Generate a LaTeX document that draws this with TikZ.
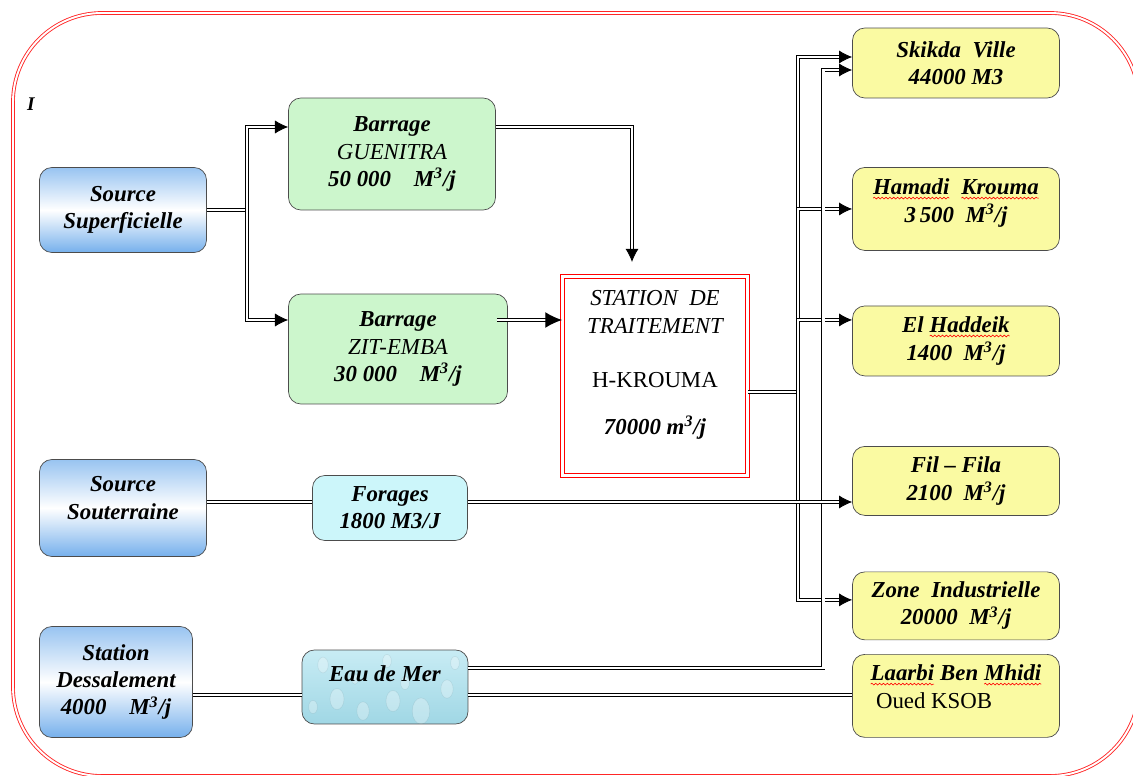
\documentclass[tikz,border=0pt]{standalone}
\usepackage{fontspec}
\setmainfont{Liberation Serif}
\usetikzlibrary{positioning,calc,arrows.meta,decorations.pathmorphing}

\definecolor{srcblue}{RGB}{118,176,236}
\definecolor{damgreen}{RGB}{204,246,204}
\definecolor{wellcyan}{RGB}{204,246,250}
\definecolor{seatop}{RGB}{200,236,244}
\definecolor{seabot}{RGB}{160,215,229}
\definecolor{townyellow}{RGB}{250,250,162}

\newcommand{\spellwave}[1]{\tikz[baseline=(w.base),x=1cm,y=1cm,sharp corners]{%
    \node[inner sep=0pt,outer sep=0pt,minimum width=0pt,minimum height=0pt,draw=none,fill=none,align=left] (w) {#1};
    \draw[red,line width=0.35pt,sharp corners,decorate,decoration={snake,amplitude=0.5pt,segment length=2.2pt}]
        ([yshift=-1.8pt]w.base west) -- ([yshift=-1.8pt]w.base east);}}

\begin{document}
\begin{tikzpicture}[x=0.02cm,y=-0.02cm,on grid,
    box/.style={draw=black!70,rounded corners=7pt,align=center,inner sep=2pt,
        font=\fontsize{13}{15.5}\selectfont\bfseries\itshape},
    source/.style={box,top color=srcblue!75,bottom color=srcblue,middle color=white},
    dam/.style={box,fill=damgreen},
    well/.style={box,fill=wellcyan},
    sea/.style={box,top color=seatop,bottom color=seabot,
        path picture={\foreach \dx/\dy/\rr in {-62/-22/3,-48/12/4,-22/24/3.5,8/14/4,36/24/5,62/2/3.5,70/-24/2.5,-72/20/2.5,2/-26/2.5,44/-12/2,-30/-8/2,20/-4/2.5}
            {\fill[white,opacity=0.3] ($(path picture bounding box.center)+(\dx,\dy)$) ellipse [x radius=\rr pt,y radius=1.5*\rr pt];
             \draw[seabot!70!black,opacity=0.2,line width=0.3pt] ($(path picture bounding box.center)+(\dx,\dy)$) ellipse [x radius=\rr pt,y radius=1.5*\rr pt];}}},
    town/.style={box,fill=townyellow,minimum width=4.14cm},
    plant/.style={draw=red,double=white,double distance=1.8pt,line width=0.6pt,fill=white,
        align=center,font=\fontsize{13}{15.5}\selectfont\itshape},
    pipe/.style={double,double distance=1.4pt,line width=0.45pt},
    frame/.style={draw=red!85,double=white,double distance=1.1pt,line width=0.5pt,rounded corners=1.78cm},
    >={Latex[length=7.5pt,width=7.5pt]}]
    \useasboundingbox (0,0) rectangle (1133,776);
    \draw[frame] (13,13) rectangle (1139,776);
    \node[font=\fontsize{11}{12}\selectfont\bfseries\itshape] (mark) at (31,104) {I};

    % sources
    \node[source,minimum width=3.34cm,minimum height=1.70cm] (src_sup) at (123,210) {Source\\Superficielle};
    \node[source,minimum width=3.34cm,minimum height=1.94cm] (src_sout) at (123,508) {Source\\Souterraine\\[-4pt]\mbox{}};
    \node[source,minimum width=3.06cm,minimum height=2.22cm] (src_des) at (116,682) {Station\\Dessalement\\4000\quad M\textsuperscript{3}/j};

    % dams, wells, sea
    \node[dam,minimum width=4.14cm,minimum height=2.24cm] (bar_gue) at (392,154) {Barrage\\{\mdseries GUENITRA}\\50 000\quad M\textsuperscript{3}/j};
    \node[dam,minimum width=4.38cm,minimum height=2.20cm] (bar_zit) at (398,349) {Barrage\\{\mdseries ZIT-EMBA}\\30 000\quad M\textsuperscript{3}/j};
    \node[well,minimum width=3.10cm,minimum height=1.30cm] (forages) at (390,508) {Forages\\1800 M3/J};
    \node[sea,minimum width=3.32cm,minimum height=1.48cm] (eau) at (385,687) {Eau de Mer\\ \mbox{}};

    % treatment plant
    \node[plant,minimum width=3.70cm,minimum height=3.98cm] (station) at (655,376)
        {STATION\ \ DE\\TRAITEMENT\\[15.5pt]{\upshape H-KROUMA}\\[11pt]{\bfseries 70000 m\textsuperscript{3}/j}\\ \mbox{}};

    % towns
    \node[town,minimum height=1.40cm] (skikda) at (956,63) {Skikda\ \ Ville\\44000 M3};
    \node[town,minimum height=1.66cm,below=2.92cm of skikda] (hamadi) {\spellwave{Hamadi}\ \ \spellwave{Krouma}\\3\,500\ \ M\textsuperscript{3}/j\\[-6pt]\mbox{}};
    \node[town,minimum height=1.40cm,below=2.64cm of hamadi] (haddeik) {El \spellwave{Haddeik}\\1400\ \ M\textsuperscript{3}/j};
    \node[town,minimum height=1.38cm,below=2.80cm of haddeik] (fila) {Fil -- Fila\\2100\ \ M\textsuperscript{3}/j};
    \node[town,minimum height=1.36cm,below=2.50cm of fila] (zone) {Zone\ \ Industrielle\\20000\ \ M\textsuperscript{3}/j};
    \node[town,minimum height=1.66cm,below=1.80cm of zone,align=left] (laarbi) {\spellwave{Laarbi} Ben \spellwave{Mhidi}\\{\mdseries\upshape\ Oued KSOB}\\[-5pt]\mbox{}};

    % surface water
    \draw[pipe] (src_sup.east) -- ++(40,0) coordinate (split);
    \draw[pipe,->] (split) |- ($(bar_gue.west)+(0,-27)$);
    \draw[pipe,->] (split) |- ($(bar_zit.west)+(0,-29)$);
    \draw[pipe,->,shorten >=8pt] ($(bar_gue.east)+(0,-27)$) -| ($(station.north)+(-23,0)$);
    \draw[pipe,line width=0.7pt,-{Latex[length=9.5pt,width=9pt]}] ($(bar_zit.east)+(-11,-29)$) -- ($(station.west)+(0,-56)$);

    % distribution
    \draw[pipe] ($(station.east)+(0,16)$) -- ++(50,0) coordinate (bus);
    \draw[pipe,->] (bus) |- ($(skikda.west)+(0,-6)$);
    \draw[pipe,->] (bus) |- (hamadi.west);
    \draw[pipe,->] (bus) |- ($(haddeik.west)+(0,-21)$);
    \draw[pipe,->] (bus) |- ($(zone.west)+(0,-6)$);
    \draw[pipe,->] ($(eau.east)+(0,-19)$) -- ++(355,0) |- ($(skikda.west)+(0,7)$);

    % ground water and desalination
    \coordinate (well_out) at ($(src_sout.east)+(0,-6)$);
    \draw[pipe] (well_out) -- (well_out -| forages.west);
    \draw[pipe,->] (well_out -| forages.east) -- (well_out -| fila.west);
    \coordinate (des_out) at ($(src_des.east)+(0,13)$);
    \draw[pipe] (des_out) -- (des_out -| eau.west);
    \draw[pipe] (des_out -| eau.east) -- (des_out -| laarbi.west);
\end{tikzpicture}
\end{document}
